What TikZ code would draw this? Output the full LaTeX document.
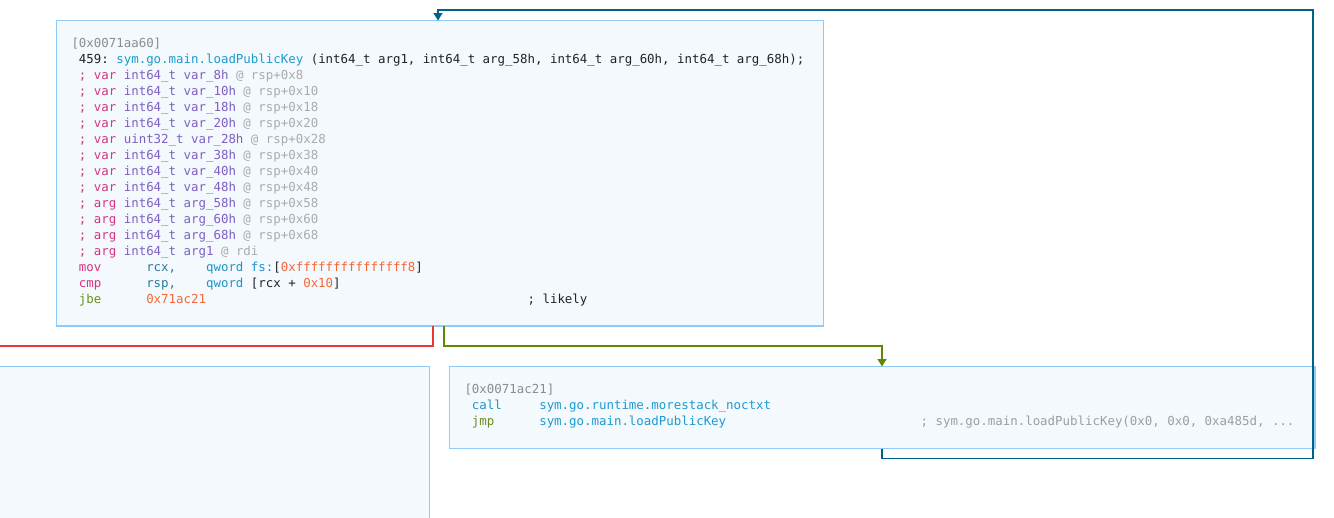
\documentclass[tikz,border=0pt]{standalone}
\usepackage{fontspec}
\setmonofont{DejaVu Sans Mono}
\usetikzlibrary{arrows.meta}
\definecolor{boxfill}{HTML}{F4F9FD}
\definecolor{boxline}{HTML}{90CAF9}
\definecolor{cgrey}{HTML}{8C8C8C}
\definecolor{clight}{HTML}{ABABAB}
\definecolor{cdark}{HTML}{222222}
\definecolor{cfunc}{HTML}{1E9AD0}
\definecolor{cpink}{HTML}{D6337F}
\definecolor{cpurple}{HTML}{7E5FC4}
\definecolor{creg}{HTML}{2A7C9C}
\definecolor{cqword}{HTML}{1F93C8}
\definecolor{cnum}{HTML}{F2673A}
\definecolor{cjmp}{HTML}{6A8F1F}
\definecolor{ccomm}{HTML}{9E9E9E}
\definecolor{cred}{HTML}{E53935}
\definecolor{cgreen}{HTML}{5F8A00}
\definecolor{cblue}{HTML}{00628B}
\newcommand\sk[1]{\hspace*{#1\dimexpr 7.477pt\relax}}
\newcommand\varln[3]{\sk{1}\textcolor{cpink}{; #1} \textcolor{cpurple}{#2} \textcolor{clight}{@ #3}}
\begin{document}
\begin{tikzpicture}[x=1pt,y=-1pt,
  every node/.style={inner sep=0pt, outer sep=0pt},
  code/.style={anchor=base west, font=\ttfamily\fontsize{12.42}{16}\selectfont, text=cdark},
  block/.style={draw=boxline, fill=boxfill, line width=1.2pt, anchor=north west},
  edge/.style={line width=1.3pt},
  tip/.style={-{Triangle[width=9pt,length=7.5pt]}}]
\useasboundingbox (0,0) rectangle (1334,517);
\clip (0,0) rectangle (1334,517);
% blocks
\node[block, minimum width=767pt, minimum height=305.5pt] (main) at (56.5,20.5) {};
\node[block, minimum width=439.5pt, minimum height=170pt] (left) at (-10,366.5) {};
\node[block, minimum width=865.5pt, minimum height=82pt] (stack) at (449.5,366.5) {};
% connector ends
\coordinate (redend) at (-5,346);
\coordinate (loopcorner) at (1313,10);
% connectors
\draw[edge, cred] ([xshift=376.5pt]main.south west) |- (redend);
\draw[edge, cgreen, tip] ([xshift=387.5pt]main.south west) -- ++(0,20) -| ([xshift=432.5pt]stack.north west);
\draw[edge, cblue, tip] ([xshift=432.5pt]stack.south west) -- ++(0,10) -| (loopcorner) -| ([xshift=381.5pt]main.north west);
% main block text
\node[code] (m0) at (71.5,47) {\textcolor{cgrey}{[0x0071aa60]}};
\node[code] (m1) at (71.5,63) {\sk{1}459: \textcolor{cfunc}{sym.go.main.loadPublicKey} (int64\_t arg1, int64\_t arg\_58h, int64\_t arg\_60h, int64\_t arg\_68h);};
\node[code] (m2) at (71.5,79) {\varln{var}{int64\_t var\_8h}{rsp+0x8}};
\node[code] (m3) at (71.5,95) {\varln{var}{int64\_t var\_10h}{rsp+0x10}};
\node[code] (m4) at (71.5,111) {\varln{var}{int64\_t var\_18h}{rsp+0x18}};
\node[code] (m5) at (71.5,127) {\varln{var}{int64\_t var\_20h}{rsp+0x20}};
\node[code] (m6) at (71.5,143) {\varln{var}{uint32\_t var\_28h}{rsp+0x28}};
\node[code] (m7) at (71.5,159) {\varln{var}{int64\_t var\_38h}{rsp+0x38}};
\node[code] (m8) at (71.5,175) {\varln{var}{int64\_t var\_40h}{rsp+0x40}};
\node[code] (m9) at (71.5,191) {\varln{var}{int64\_t var\_48h}{rsp+0x48}};
\node[code] (m10) at (71.5,207) {\varln{arg}{int64\_t arg\_58h}{rsp+0x58}};
\node[code] (m11) at (71.5,223) {\varln{arg}{int64\_t arg\_60h}{rsp+0x60}};
\node[code] (m12) at (71.5,239) {\varln{arg}{int64\_t arg\_68h}{rsp+0x68}};
\node[code] (m13) at (71.5,255) {\varln{arg}{int64\_t arg1}{rdi}};
\node[code] (m14) at (71.5,271) {\sk{1}\textcolor{cpink}{mov}\sk{6}\textcolor{creg}{rcx,}\sk{4}\textcolor{cqword}{qword fs:}[\textcolor{cnum}{0xfffffffffffffff8}]};
\node[code] (m15) at (71.5,287) {\sk{1}\textcolor{cpink}{cmp}\sk{6}\textcolor{creg}{rsp,}\sk{4}\textcolor{cqword}{qword} [rcx + \textcolor{cnum}{0x10}]};
\node[code] (m16) at (71.5,303) {\sk{1}\textcolor{cjmp}{jbe}\sk{6}\textcolor{cnum}{0x71ac21}\sk{43}; likely};
% stack block text
\node[code] (s0) at (464.5,393) {\textcolor{cgrey}{[0x0071ac21]}};
\node[code] (s1) at (464.5,409) {\sk{1}\textcolor{cqword}{call}\sk{5}\textcolor{cfunc}{sym.go.runtime.morestack\_noctxt}};
\node[code] (s2) at (464.5,425) {\sk{1}\textcolor{cjmp}{jmp}\sk{6}\textcolor{cfunc}{sym.go.main.loadPublicKey}\sk{26}\textcolor{ccomm}{; sym.go.main.loadPublicKey(0x0, 0x0, 0xa485d, ...}};
\end{tikzpicture}
\end{document}
